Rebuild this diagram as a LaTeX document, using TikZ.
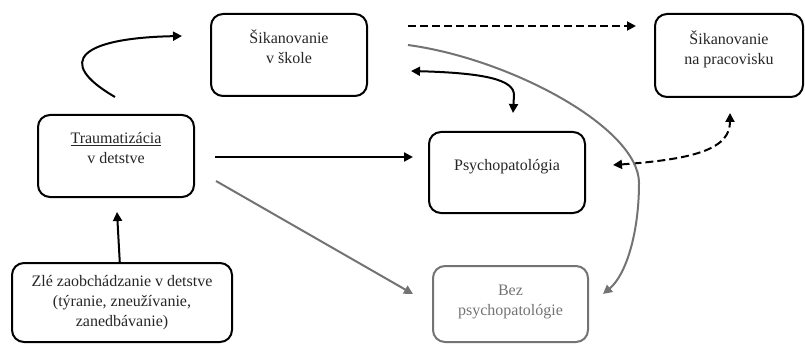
\documentclass[tikz,border=0pt]{standalone}
\usepackage{fontspec}
\setmainfont{Liberation Serif}
\usetikzlibrary{arrows.meta}

\begin{document}
\begin{tikzpicture}[x=1pt,y=1pt,line width=2pt,>={Triangle[length=9pt,width=9pt]}]
    \tikzstyle{box}=[rectangle,draw,rounded corners=12pt,line width=2pt,align=center,text=black!85,font=\fontsize{16}{20}\selectfont,inner sep=0pt]
    \tikzstyle{gray box}=[box,draw=black!55,text=black!55];
    \tikzstyle{link}=[->,draw=black];
    \tikzstyle{gray link}=[->,draw=black!55];
    \tikzstyle{dash link}=[link,dash pattern=on 8pt off 4pt];
    \useasboundingbox (0,0) rectangle (805,343);
    % Draw the boxes
      \node[box,minimum width=156pt,minimum height=82pt] (skola) at (289,288) {Šikanovanie\\v škole\\[-4pt]\mbox{}};
      \node[box,minimum width=156pt,minimum height=82pt] (trauma) at (116,187) {\underline{Traumatizácia}\\v detstve\\[-4pt]\mbox{}};
      \node[box,minimum width=148pt,minimum height=83pt] (praca) at (729,287.5) {Šikanovanie\\na pracovisku\\[-4pt]\mbox{}};
      \node[box,minimum width=156pt,minimum height=81pt] (psycho) at (507,170.5) {Psychopatológia\\[-4pt]\mbox{}};
      \node[gray box,minimum width=155pt,minimum height=76pt] (bez) at (510.5,39) {Bez\\psychopatológie\\[-12pt]\mbox{}};
      \node[box,minimum width=220pt,minimum height=79pt] (zle) at (122,40.5) {Zlé zaobchádzanie v detstve\\(týranie, zneužívanie,\\zanedbávanie)};
    % Draw the links
      \path (zle) edge [link] ([xshift=1pt,yshift=-14pt]trauma.south);
      \path ([xshift=20pt,yshift=-1pt]trauma.east) edge [link] ([xshift=-15pt,yshift=15.5pt]psycho.west);
      \path ([xshift=21pt,yshift=-25pt]trauma.east) edge [gray link] ([xshift=-19pt,yshift=10pt]bez.west);
      \path ([xshift=40pt,yshift=29pt]skola.east) edge [dash link] ([xshift=-18pt,yshift=29.5pt]praca.west);
      \draw[link] ([xshift=-1pt,yshift=17pt]trauma.north) .. controls +(-62,36) and +(-100,-2) .. ([xshift=-28pt,yshift=19pt]skola.west);
      \draw[link,<->] ([xshift=43pt,yshift=-16pt]skola.east) .. controls +(75,-2) and +(0,15) .. ++(103,-24) -- ([xshift=6pt,yshift=18pt]psycho.north);
      \draw[dash link,<->] ([xshift=27pt,yshift=7.5pt]psycho.east) .. controls +(85,6) and +(0,-35) .. ([xshift=1pt,yshift=-15pt]praca.south);
      \draw[gray link] ([xshift=40pt,yshift=10pt]skola.east) .. controls +(103,-14) and +(0,55) .. ++(231,-138) .. controls +(0,-50) and +(23,19) .. ([xshift=14pt,yshift=10pt]bez.east);
\end{tikzpicture}
\end{document}
